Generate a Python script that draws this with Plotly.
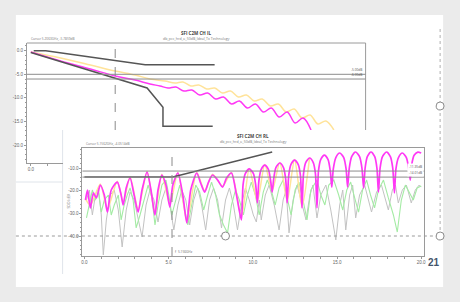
import plotly.graph_objects as go

W, H = 460, 302
def fx(p): return p / W
def fy(p): return 1 - p / H

# ---------------- Top chart: SFI C2M CH IL ----------------
il_mag_f = [0.00, 1.84, 3.68, 5.21, 6.44, 7.36, 7.98, 8.47, 8.96, 9.45, 9.94, 10.43, 10.92, 11.41,
            11.90, 12.39, 12.88, 13.37, 13.87, 14.36, 14.85, 15.34, 15.83, 16.32, 16.81, 17.30]
il_mag_db = [-0.28, -2.18, -3.88, -5.36, -6.21, -7.05, -7.48, -7.90, -7.69, -8.54, -8.33, -9.39, -8.96, -10.23,
             -9.81, -11.29, -10.66, -12.14, -11.29, -12.99, -12.14, -14.05, -12.99, -15.32, -14.26, -16.80]
il_yel_f = [0.00, 1.84, 3.68, 5.21, 6.44, 7.36, 8.28, 8.90, 9.39, 9.88, 10.37, 10.86, 11.35, 11.84, 12.33,
            12.82, 13.31, 13.80, 14.29, 14.79, 15.28, 15.77, 16.26, 16.75, 17.24, 17.73, 18.22, 18.71]
il_yel_db = [-0.28, -1.55, -3.03, -4.30, -5.15, -5.99, -6.42, -6.84, -6.63, -7.48, -7.27, -8.11, -7.90, -8.96, -8.54,
             -9.81, -9.39, -10.66, -10.23, -11.72, -11.29, -12.99, -12.35, -14.26, -13.62, -15.53, -14.89, -16.80]
il_mask_hi_f = [0.18, 0.92, 7.06, 11.35]
il_mask_hi_db = [0.0, 0.0, -3.0, -3.0]
il_mask_lo_f = [0.0, 7.18, 8.16, 8.16, 11.23]
il_mask_lo_db = [-0.4, -7.9, -12.0, -16.0, -16.0]
il_ref_db = [-5.0, -6.0]
il_ref_txt = ["-5.00dB", "-6.00dB"]
il_cursor_f = 5.21
il_ytick_vals = [0, -5, -10, -15, -20]
il_ytick_txt = ["0.0", "-5.0", "-10.0", "-15.0", "-20.0"]

# ---------------- Bottom chart: SFI C2M CH RL ----------------
rl_mag_f = [0.06, 0.18, 0.35, 0.53, 0.71, 0.94, 1.18, 1.36, 1.59, 1.95, 2.18, 2.30, 2.48, 2.71, 2.95, 3.19, 3.42,
            3.72, 3.95, 4.19, 4.37, 4.60, 4.84, 5.07, 5.25, 5.55, 5.84, 6.08, 6.31, 6.67, 6.90, 7.14, 7.37, 7.61,
            7.91, 8.20, 8.44, 8.73, 9.03, 9.32,
            9.42, 9.56, 9.79, 10.03, 10.17, 10.27,
            10.36, 10.49, 10.71, 10.93, 11.06, 11.15,
            11.24, 11.37, 11.60, 11.82, 11.95, 12.04,
            12.13, 12.26, 12.48, 12.70, 12.83, 12.92,
            13.01, 13.14, 13.37, 13.59, 13.72, 13.81,
            13.90, 14.03, 14.25, 14.47, 14.60, 14.69,
            14.78, 14.93, 15.16, 15.40, 15.54, 15.63,
            15.73, 15.87, 16.10, 16.34, 16.48, 16.58,
            16.67, 16.80, 17.02, 17.24, 17.37, 17.46,
            17.56, 17.70, 17.94, 18.17, 18.31, 18.41,
            18.50, 18.65, 18.88, 19.12, 19.26, 19.35,
            19.44, 19.58, 19.80, 20.0]
rl_mag_db = [-24.1, -19.7, -27.6, -21.0, -23.2, -17.5, -21.9, -29.4, -19.7, -16.2, -21.9, -26.3, -18.8, -14.4, -21.9,
             -29.4, -19.7, -11.8, -19.7, -30.7, -19.7, -13.1, -17.5, -27.2, -17.5, -12.2, -21.9, -34.2, -19.7, -12.2,
             -16.6, -20.6, -16.2, -13.1, -15.3, -18.4, -14.4, -12.2, -21.9, -32.9,
             -17.4, -12.4, -10.4, -12.4, -17.4, -25.4,
             -15.7, -10.7, -8.7, -10.7, -15.7, -20.6,
             -14.8, -9.8, -7.8, -9.8, -14.8, -25.4,
             -13.5, -8.5, -6.5, -8.5, -13.5, -27.6,
             -12.6, -7.6, -5.6, -7.6, -12.6, -27.6,
             -11.3, -6.3, -4.3, -6.3, -11.3, -18.4,
             -10.4, -5.4, -3.4, -5.4, -10.4, -18.4,
             -10.0, -5.0, -2.95, -5.0, -10.0, -18.8,
             -10.0, -5.0, -2.95, -5.0, -10.0, -20.6,
             -10.0, -5.0, -2.95, -5.0, -10.0, -21.0,
             -10.4, -5.4, -3.4, -5.4, -10.4, -15.3,
             -8.4, -4.4, -3.0, -3.4]
rl_yel_f = [0.06, 0.35, 0.94, 1.36, 1.95, 2.30, 2.71, 3.19, 3.72, 4.19, 4.60, 5.07, 5.55, 6.08, 6.67, 7.14, 7.61,
            8.20, 8.73, 9.32, 9.79, 10.27, 10.71, 11.15, 11.60, 12.04, 12.48, 12.92, 13.37]
rl_yel_db = [-23.5, -26.5, -17.0, -28.0, -15.8, -25.0, -14.0, -28.0, -11.5, -29.5, -12.8, -26.0, -12.0, -33.0,
             -12.0, -20.0, -12.8, -18.0, -12.0, -31.5, -10.2, -24.5, -8.5, -20.0, -7.6, -24.5, -6.3, -27.0, -5.4]
rl_grn_f = [0.12, 0.29, 0.47, 0.65, 0.83, 1.00, 1.18, 1.42, 1.59, 1.77, 2.01, 2.18, 2.36, 2.54, 2.71, 2.89, 3.07,
            3.30, 3.54, 3.78, 4.01, 4.19, 4.37, 4.60, 4.84, 5.01, 5.19, 5.43, 5.66, 5.90, 6.14, 6.37, 6.61, 6.84,
            7.08, 7.32, 7.55, 7.79, 8.02, 8.26, 8.50, 8.73, 8.97, 9.20, 9.44, 9.68, 9.91, 10.15, 10.38, 10.62, 10.86,
            11.09, 11.33, 11.56, 11.80, 12.04, 12.27, 12.51, 12.74, 12.98, 13.22, 13.45, 13.81, 14.04, 14.28, 14.51,
            14.81, 15.10, 15.34, 15.58, 15.81, 16.05, 16.28, 16.52, 16.76, 16.99, 17.23, 17.46, 17.76, 18.05, 18.35,
            18.58, 18.82, 19.06, 19.29, 19.53, 19.76, 20.00]
rl_grn_db = [-32.0, -26.3, -19.7, -24.1, -20.6, -29.4, -24.1, -21.9, -30.7, -26.3, -21.9, -32.9, -26.3, -21.9,
             -18.8, -24.1, -36.4, -30.7, -24.1, -17.5, -23.2, -35.1, -26.3, -17.5, -15.3, -21.9, -30.7, -24.1, -17.5,
             -26.3, -35.1, -26.3, -17.5, -20.6, -28.5, -21.9, -16.2, -21.9, -30.7, -35.1, -38.6, -26.3, -19.7, -24.1,
             -30.7, -21.9, -16.2, -21.9, -30.7, -20.6, -15.3, -19.7, -26.3, -18.8, -15.3, -23.2, -30.7, -19.7, -16.2,
             -24.1, -32.9, -19.7, -15.3, -21.9, -26.3, -17.5, -15.3, -21.9, -28.5, -19.7, -16.2, -23.2, -29.4, -19.7,
             -15.3, -21.9, -27.6, -19.7, -15.3, -23.2, -30.7, -38.2, -24.1, -17.5, -20.6, -24.1, -18.8, -17.9]
rl_gry_f = [0.12, 0.29, 0.47, 0.65, 0.83, 1.00, 1.12, 1.30, 1.53, 1.77, 2.01, 2.24, 2.48, 2.71, 2.95, 3.19, 3.42,
            3.66, 3.89, 4.13, 4.37, 4.60, 4.84, 5.07, 5.31, 5.55, 5.78, 6.02, 6.25, 6.49, 6.73, 6.96, 7.20, 7.43,
            7.67, 7.91, 8.14, 8.38, 8.61, 8.85, 9.09, 9.32, 9.56, 9.79, 10.03, 10.21, 10.38, 10.50, 10.74, 10.97,
            11.27, 11.56, 11.80, 11.98, 12.15, 12.39, 12.63, 12.86, 13.16, 13.39, 13.57, 13.81, 14.04, 14.34, 14.63,
            14.93, 15.16, 15.34, 15.52, 15.75, 15.93, 16.11, 16.34, 16.64, 17.05, 17.35, 17.64, 18.05, 18.29, 18.47,
            18.64, 18.88, 19.12, 19.41, 19.65, 19.88, 20.00]
rl_gry_db = [-24.1, -19.7, -30.7, -21.9, -18.8, -30.7, -48.3, -32.9, -21.9, -19.7, -28.5, -44.8, -28.5, -20.6,
             -24.1, -32.9, -40.4, -26.3, -19.7, -24.1, -33.8, -24.1, -18.8, -26.3, -37.3, -26.3, -19.7, -24.1, -35.1,
             -24.1, -18.8, -26.3, -37.3, -24.1, -18.8, -24.1, -36.4, -24.1, -18.8, -26.3, -37.3, -26.3, -18.8, -24.1,
             -30.7, -33.8, -24.1, -32.9, -21.9, -17.5, -26.3, -37.3, -24.1, -19.7, -38.6, -24.1, -17.5, -24.1, -32.9,
             -21.9, -17.5, -32.0, -21.9, -17.5, -28.5, -41.7, -26.3, -19.7, -37.3, -21.9, -17.5, -32.0, -21.9, -17.5,
             -29.4, -20.6, -17.5, -28.5, -19.7, -17.5, -25.4, -19.7, -17.5, -25.4, -19.7, -17.5, -18.4]
rl_mask_f = [0.0, 5.25, 11.15]
rl_mask_db = [-14.0, -14.0, -2.95]
rl_ref_db = [-11.35, -14.01]
rl_ref_txt = ["-11.35dB", "-14.01dB"]
rl_cursor_f = 5.2
rl_xtick_vals = [0, 5, 10, 15, 20]
rl_xtick_txt = ["0.0", "5.0", "10.0", "15.0", "20.0"]
rl_ytick_vals = [-10, -20, -30, -40]
rl_ytick_txt = ["-10.0", "-20.0", "-30.0", "-40.0"]

MAG = "#ff38f5"
YEL = "#ffe39a"
GRN = "#a4eba4"
GRY = "#c2c2c2"
MASK = "#555555"
AX = "#9a9a9a"
TXT = "#666666"

fig = go.Figure()
# top chart
fig.add_trace(go.Scatter(x=il_yel_f, y=il_yel_db, mode="lines", line=dict(color=YEL, width=1.5, shape="spline"), xaxis="x", yaxis="y"))
fig.add_trace(go.Scatter(x=il_mag_f, y=il_mag_db, mode="lines", line=dict(color=MAG, width=1.5, shape="spline"), xaxis="x", yaxis="y"))
fig.add_trace(go.Scatter(x=il_mask_hi_f, y=il_mask_hi_db, mode="lines", line=dict(color=MASK, width=1.5), xaxis="x", yaxis="y"))
fig.add_trace(go.Scatter(x=il_mask_lo_f, y=il_mask_lo_db, mode="lines", line=dict(color=MASK, width=1.5), xaxis="x", yaxis="y"))
# axis-only subplot (visible part of the top chart's axes)
fig.add_trace(go.Scatter(x=[], y=[], mode="lines", xaxis="x3", yaxis="y3", hoverinfo="skip"))
# bottom chart
fig.add_trace(go.Scatter(x=rl_gry_f, y=rl_gry_db, mode="lines", line=dict(color=GRY, width=1), xaxis="x2", yaxis="y2"))
fig.add_trace(go.Scatter(x=rl_grn_f, y=rl_grn_db, mode="lines", line=dict(color=GRN, width=1.1), xaxis="x2", yaxis="y2"))
fig.add_trace(go.Scatter(x=rl_yel_f, y=rl_yel_db, mode="lines", line=dict(color=YEL, width=1.5, shape="spline", smoothing=0.7), xaxis="x2", yaxis="y2"))
fig.add_trace(go.Scatter(x=rl_mag_f, y=rl_mag_db, mode="lines", line=dict(color=MAG, width=1.7, shape="spline", smoothing=0.7), xaxis="x2", yaxis="y2"))
fig.add_trace(go.Scatter(x=rl_mask_f, y=rl_mask_db, mode="lines", line=dict(color=MASK, width=1.5), xaxis="x2", yaxis="y2"))

tickfont = dict(size=4.5, color=TXT, family="Liberation Sans")
common = dict(showgrid=False, zeroline=False, linecolor=AX, linewidth=1, tickcolor=AX, tickfont=tickfont, fixedrange=True)

fig.update_layout(
    width=W, height=H, autosize=False, margin=dict(l=0, r=0, t=0, b=0),
    paper_bgcolor="#ebebeb", plot_bgcolor="rgba(0,0,0,0)", showlegend=False,
    xaxis=dict(domain=[fx(26), fx(367)], range=[-0.245, 20.67], anchor="y",
               showline=False, ticks="", showticklabels=False, **common),
    yaxis=dict(domain=[fy(130), fy(43)], range=[-16.80, 1.63], anchor="x",
               showline=False, ticks="", showticklabels=False, **common),
    xaxis3=dict(domain=[fx(26), fx(62)], range=[-0.245, 1.963], anchor="y3", showline=True,
                ticks="outside", ticklen=2, tickvals=[0], ticktext=["0.0"],
                minor=dict(ticks="outside", dtick=1, ticklen=2, tickcolor=AX), **common),
    yaxis3=dict(domain=[fy(163), fy(43)], range=[-23.79, 1.63], anchor="x3", showline=True,
                ticks="outside", ticklen=2, tickvals=il_ytick_vals, ticktext=il_ytick_txt,
                minor=dict(ticks="outside", dtick=1, ticklen=1, tickcolor=AX), **common),
    xaxis2=dict(domain=[fx(82), fx(426)], range=[-0.118, 20.18], anchor="y2", showline=True, mirror=True,
                ticks="outside", ticklen=2, tickvals=rl_xtick_vals, ticktext=rl_xtick_txt,
                minor=dict(ticks="outside", dtick=1, ticklen=2, tickcolor=AX), **common),
    yaxis2=dict(domain=[fy(256), fy(148)], range=[-48.77, -1.19], anchor="x2", showline=True, mirror=True,
                ticks="outside", ticklen=2, tickvals=rl_ytick_vals, ticktext=rl_ytick_txt,
                minor=dict(ticks="outside", dtick=2, ticklen=1, tickcolor=AX), **common),
)

shapes = []
# slide
shapes.append(dict(type="rect", xref="paper", yref="paper", x0=fx(15), x1=fx(445), y0=fy(287), y1=fy(15),
                   fillcolor="white", line=dict(width=0), layer="below"))
# faint frame lines of the pasted image
shapes.append(dict(type="line", xref="paper", yref="paper", x0=fx(62), x1=fx(62), y0=fy(130), y1=fy(274),
                   line=dict(color="#dfe4ea", width=1), layer="below"))
shapes.append(dict(type="line", xref="paper", yref="paper", x0=fx(15), x1=fx(62), y0=fy(182), y1=fy(182),
                   line=dict(color="#dfe4ea", width=1), layer="below"))
# top chart frame (top and right edges)
shapes.append(dict(type="line", xref="x domain", yref="y domain", x0=0, x1=1, y0=1, y1=1, line=dict(color=AX, width=1)))
shapes.append(dict(type="line", xref="x domain", yref="y domain", x0=1, x1=1, y0=0, y1=1, line=dict(color=AX, width=1)))
# reference lines
for v in il_ref_db:
    shapes.append(dict(type="line", xref="x domain", yref="y", x0=0, x1=1, y0=v, y1=v, line=dict(color="#8c8c8c", width=1)))
for v in rl_ref_db:
    shapes.append(dict(type="line", xref="x2 domain", yref="y2", x0=0, x1=1, y0=v, y1=v, line=dict(color="#8c8c8c", width=1)))
# cursors
shapes.append(dict(type="line", xref="x", yref="y domain", x0=il_cursor_f, x1=il_cursor_f, y0=0, y1=1,
                   line=dict(color="#8a8a8a", width=1, dash="dash")))
shapes.append(dict(type="line", xref="x2", yref="y2 domain", x0=rl_cursor_f, x1=rl_cursor_f, y0=0, y1=1,
                   line=dict(color="#8a8a8a", width=1, dash="dash")))
# selection frame
shapes.append(dict(type="line", xref="paper", yref="paper", x0=fx(15), x1=fx(442), y0=fy(236), y1=fy(236),
                   line=dict(color="#9a9a9a", width=1, dash="dot")))
shapes.append(dict(type="line", xref="paper", yref="paper", x0=fx(442), x1=fx(442), y0=fy(236), y1=fy(27),
                   line=dict(color="#b0b0b0", width=1, dash="dot")))
for cx, cy in [(442, 106), (442, 236), (226, 236)]:
    shapes.append(dict(type="circle", xref="paper", yref="paper", x0=fx(cx - 4), x1=fx(cx + 4), y0=fy(cy + 4), y1=fy(cy - 4),
                       fillcolor="white", line=dict(color="#8a8a8a", width=1)))
fig.update_layout(shapes=shapes)

ann = []
ann.append(dict(text="<b>SFI C2M CH IL</b>", xref="x domain", yref="paper", x=0.5, y=fy(33), showarrow=False,
                font=dict(size=4.5, color="#444"), xanchor="center", yanchor="middle"))
ann.append(dict(text="db_pcc_hrd_o_50dB_Ideal_Tx Technology", xref="x domain", yref="paper", x=0.5, y=fy(38.5), showarrow=False,
                font=dict(size=3.5, color="#777"), xanchor="center", yanchor="middle"))
ann.append(dict(text="<b>SFI C2M CH RL</b>", xref="x2 domain", yref="paper", x=0.5, y=fy(136), showarrow=False,
                font=dict(size=4.5, color="#444"), xanchor="center", yanchor="middle"))
ann.append(dict(text="db_pcc_hrd_o_50dB_Ideal_Tx Technology", xref="x2 domain", yref="paper", x=0.5, y=fy(141.5), showarrow=False,
                font=dict(size=3.5, color="#777"), xanchor="center", yanchor="middle"))
ann.append(dict(text="Cursor 5.2063GHz, -5.7859dB", xref="x domain", yref="y domain", x=0.005, y=1, showarrow=False,
                font=dict(size=3.2, color="#777"), xanchor="left", yanchor="bottom"))
ann.append(dict(text="Cursor 5.1562GHz, -4.0514dB", xref="x2 domain", yref="y2 domain", x=0.005, y=1, showarrow=False,
                font=dict(size=3.2, color="#777"), xanchor="left", yanchor="bottom"))
for v, t in zip(il_ref_db, il_ref_txt):
    ann.append(dict(text=t, xref="x domain", yref="y", x=0.995, y=v, showarrow=False, font=dict(size=3.2, color="#555"),
                    xanchor="right", yanchor="bottom"))
for v, t in zip(rl_ref_db, rl_ref_txt):
    ann.append(dict(text=t, xref="x2 domain", yref="y2", x=0.998, y=v, showarrow=False, font=dict(size=3.2, color="#555"),
                    xanchor="right", yanchor="bottom", bgcolor="white"))
ann.append(dict(text="f=5.156GHz", xref="x2", yref="y2 domain", x=rl_cursor_f, y=0, showarrow=False,
                font=dict(size=3.2, color="#666"), xanchor="left", yanchor="bottom", xshift=1))
ann.append(dict(text="SDD (dB)", xref="paper", yref="y2 domain", x=fx(67), y=0.5, showarrow=False, textangle=-90,
                font=dict(size=3.5, color="#777"), xanchor="center", yanchor="middle"))
ann.append(dict(text="<b>21</b>", xref="paper", yref="paper", x=fx(436), y=fy(262), showarrow=False,
                font=dict(size=10, color="#44546a", family="Liberation Sans"), xanchor="center", yanchor="middle"))
fig.update_layout(annotations=ann)

fig.write_html("out.html")
